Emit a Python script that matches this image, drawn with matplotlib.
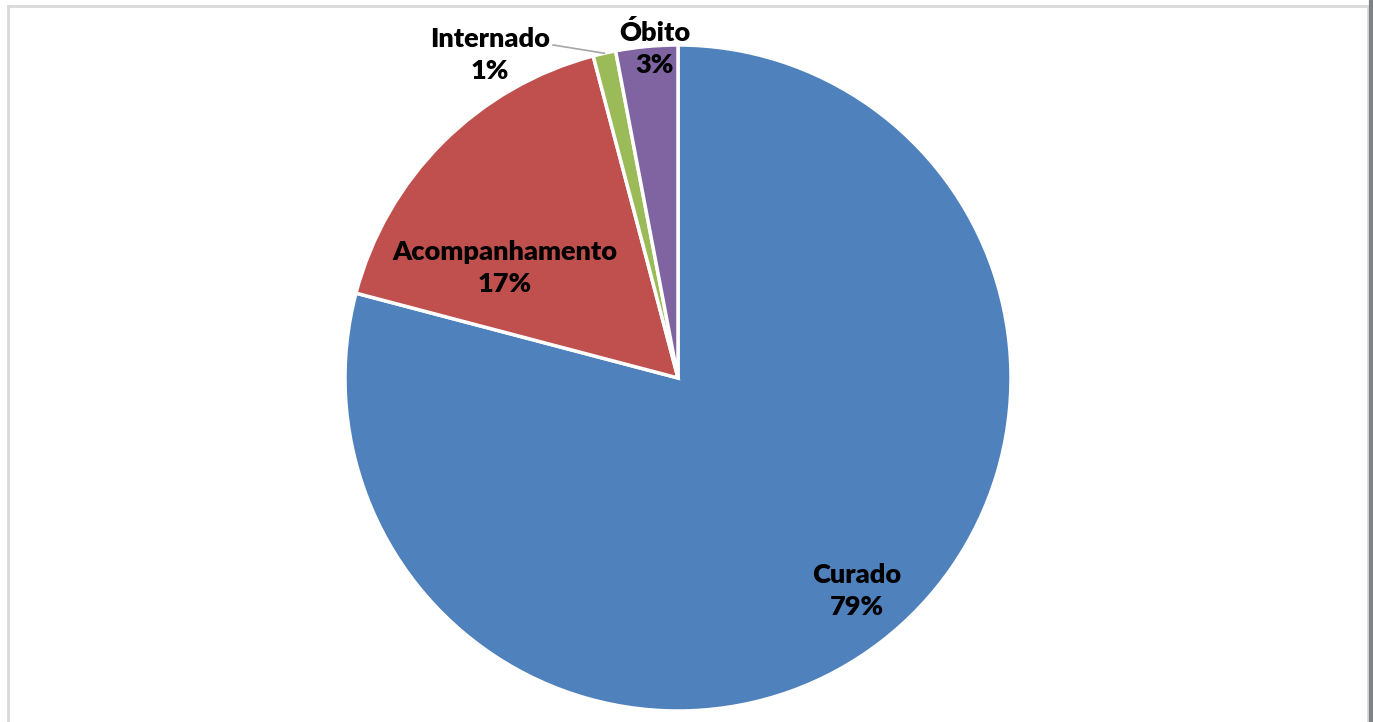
import matplotlib.pyplot as plt
import numpy as np

categories = ['Curado', 'Acompanhamento', 'Internado', 'Óbito']
shares = [79.1, 16.8, 1.1, 3.0]
pct_labels = ['79%', '17%', '1%', '3%']
colors = ['#4F81BD', '#C0504D', '#9BBB59', '#8064A2']

# label spots in pie units (radius = 1)
label_pos = [(0.538, -0.64), (-0.52, 0.33), (-0.565, 0.97), (-0.069, 0.99)]

W, H = 1373, 722
fig = plt.figure(figsize=(W / 100, H / 100), dpi=100)
fig.patch.set_facecolor('white')

cx, cy, r = 678, 378, 333
ax = fig.add_axes([(cx - r) / W, (H - cy - r) / H, 2 * r / W, 2 * r / H])
wedges, _ = ax.pie(shares, colors=colors, startangle=90, counterclock=False,
                   wedgeprops=dict(edgecolor='white', linewidth=2.5))
ax.set_xlim(-1, 1)
ax.set_ylim(-1, 1)
ax.set_aspect('equal')
ax.axis('off')

for name, pct, (x, y) in zip(categories, pct_labels, label_pos):
    ax.text(x, y, name + '\n' + pct, ha='center', va='center',
            fontsize=19.5, fontweight='heavy', family='Lato',
            linespacing=1.4, color='black')

# leader line for the small slice
w = wedges[2]
mid = np.deg2rad((w.theta1 + w.theta2) / 2)
ax.plot([-0.375, np.cos(mid)], [1.0, np.sin(mid)], color='#A6A6A6',
        lw=1.2, clip_on=False)

# outer frame
fig.add_artist(plt.Line2D([7.5 / W, 7.5 / W], [0, 1 - 6 / H], color='#D9D9D9', lw=2))
fig.add_artist(plt.Line2D([7.5 / W, 1367.5 / W], [1 - 6 / H, 1 - 6 / H], color='#D9D9D9', lw=2))
fig.add_artist(plt.Line2D([1367.5 / W, 1367.5 / W], [0, 1 - 6 / H], color='#D9D9D9', lw=2))
fig.add_artist(plt.Line2D([1371 / W, 1371 / W], [0, 1], color='#7F8285', lw=3))

fig.savefig('out.png', dpi=100)
